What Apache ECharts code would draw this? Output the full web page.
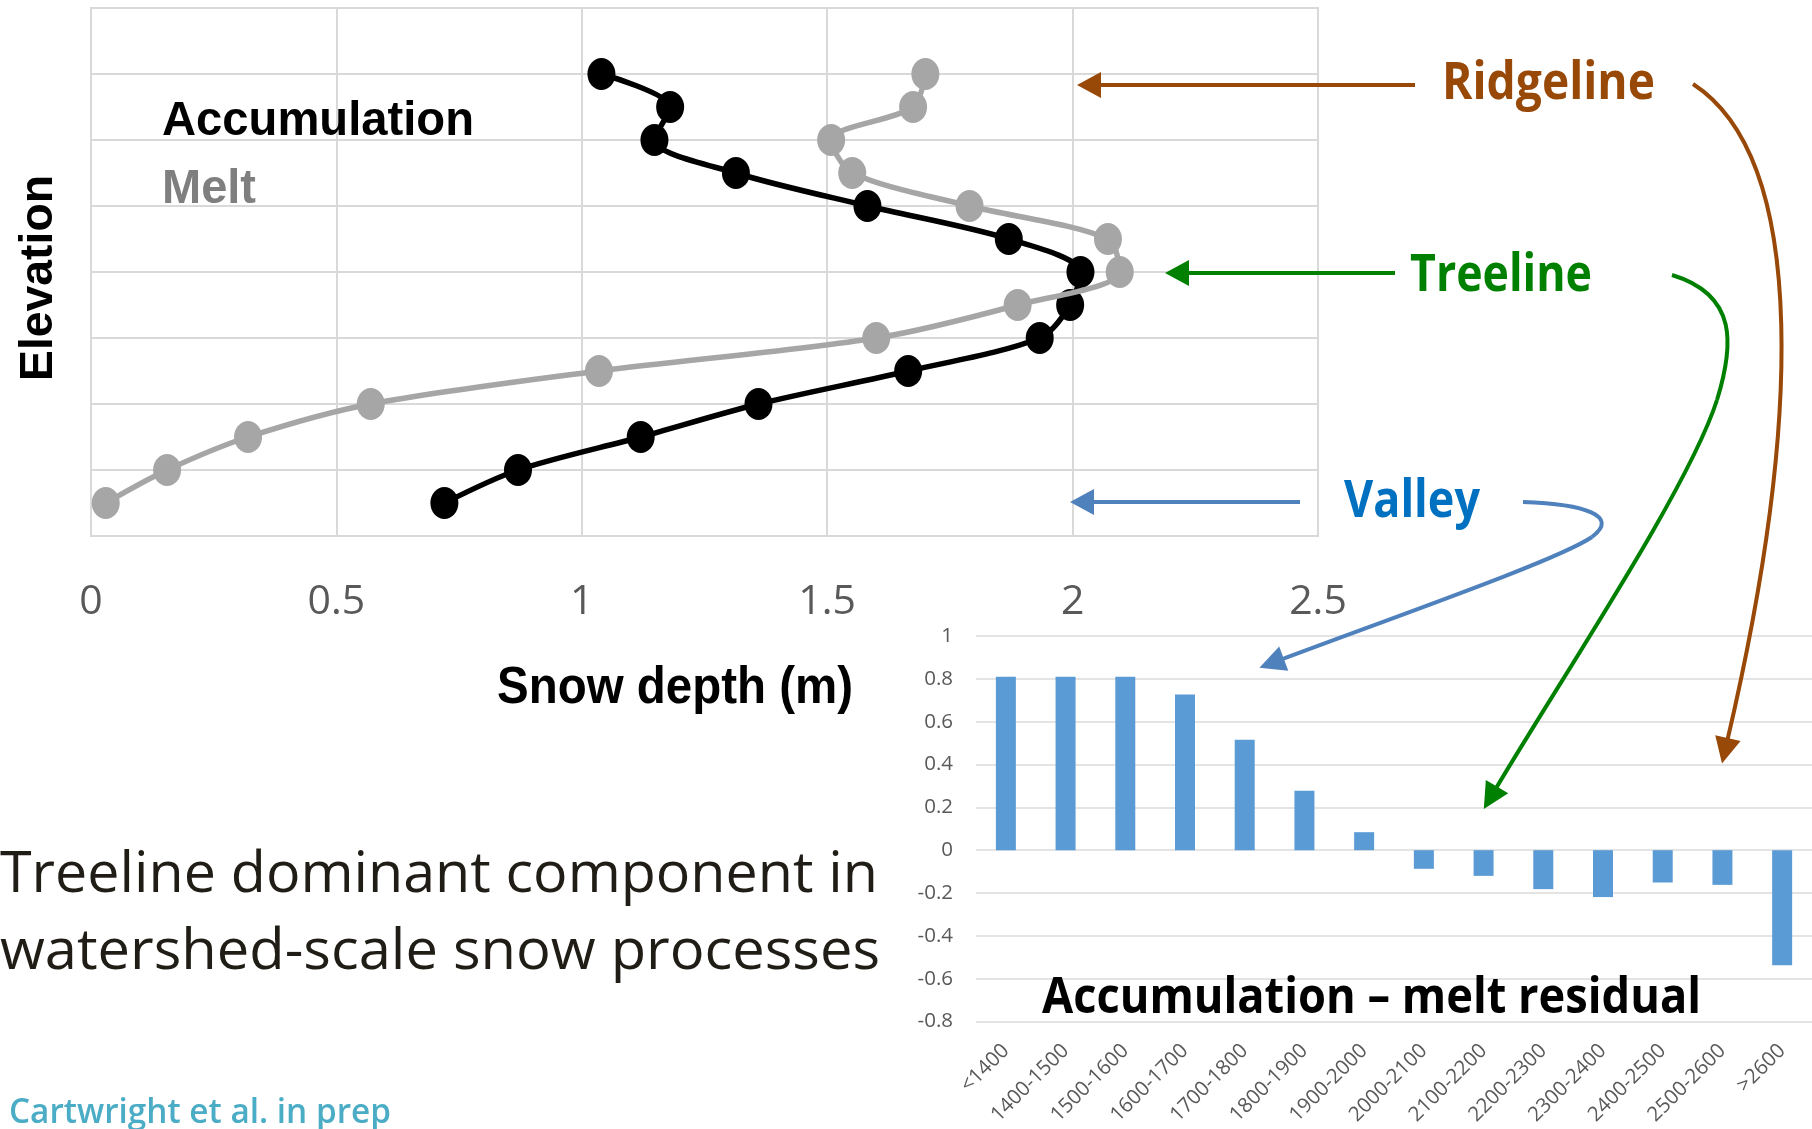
<!DOCTYPE html>
<html>
<head>
<meta charset="utf-8">
<script src="https://cdn.jsdelivr.net/npm/echarts@6/dist/echarts.min.js"></script>
<style>
html,body{margin:0;padding:0;background:#ffffff;}
#c{width:1812px;height:1129px;}
</style>
</head>
<body>
<div id="c"></div>
<script>
// ---------- data ----------
// elevation band index (bottom = lowest band, top = highest band)
const elevationLevels = [1, 2, 3, 4, 5, 6, 7, 8, 9, 10, 11, 12, 13, 14];
// snow depth (m) per elevation band, listed bottom to top
const accumulationDepth = [0.72, 0.87, 1.12, 1.36, 1.665, 1.933, 1.995, 2.016, 1.87, 1.582, 1.314, 1.148, 1.18, 1.04];
const meltDepth = [0.03, 0.155, 0.32, 0.57, 1.035, 1.6, 1.888, 2.096, 2.072, 1.79, 1.551, 1.508, 1.675, 1.7];
// residual bar chart
const elevationBands = ['<1400', '1400-1500', '1500-1600', '1600-1700', '1700-1800', '1800-1900', '1900-2000',
  '2000-2100', '2100-2200', '2200-2300', '2300-2400', '2400-2500', '2500-2600', '>2600'];
const residual = [0.81, 0.81, 0.81, 0.727, 0.516, 0.277, 0.084, -0.087, -0.12, -0.182, -0.219, -0.151, -0.162, -0.537];
// axis ranges / ticks
const depthAxis = { min: 0, max: 2.5, interval: 0.5 };
const levelAxis = { min: 0, max: 16, interval: 2 };
const residualAxis = { min: -0.8, max: 1, interval: 0.2 };

// ---------- helpers ----------
const ARIAL = '"Liberation Sans", Arial, sans-serif';
const OPEN = '"Open Sans", "Noto Sans", sans-serif';
const mctx = document.createElement('canvas').getContext('2d');

// text element fitted to a target width, placed by its alphabetic baseline
function fitText(o) {
  const font = `${o.weight || 'normal'} ${o.size}px ${o.family}`;
  mctx.font = font;
  mctx.textBaseline = 'alphabetic';
  const m = mctx.measureText(o.text);
  const sx = o.width ? o.width / m.width : 1;
  const k = (m.fontBoundingBoxAscent - m.fontBoundingBoxDescent) / 2;
  return {
    type: 'text', silent: true, z: 100,
    x: o.x, y: o.y + (o.dy || 0), rotation: o.rotation || 0,
    scaleX: sx, scaleY: 1,
    style: {
      text: o.text, x: 0, y: -k,
      fontSize: o.size, fontFamily: o.family, fontWeight: o.weight || 'normal',
      fill: o.color, textAlign: o.align || 'left', textVerticalAlign: 'middle'
    }
  };
}
function head(tipX, tipY, dx, dy, len, half, color) {
  const n = Math.hypot(dx, dy); dx /= n; dy /= n;
  const bx = tipX - dx * len, by = tipY - dy * len;
  const px = -dy, py = dx;
  return { type: 'polygon', silent: true, z: 90,
    shape: { points: [[tipX, tipY], [bx + px * half, by + py * half], [bx - px * half, by - py * half]] },
    style: { fill: color } };
}
function straightArrow(x1, y, tipX, color) {
  return [
    { type: 'line', silent: true, z: 90, shape: { x1: x1, y1: y, x2: tipX + 20, y2: y }, style: { stroke: color, lineWidth: 4 } },
    head(tipX, y, -1, 0, 24, 13, color)
  ];
}
// segs: list of cubic segments [x1,y1,c1x,c1y,c2x,c2y,x2,y2]
function curvedArrow(segs, color) {
  const els = segs.map(s => ({ type: 'bezierCurve', silent: true, z: 90,
    shape: { x1: s[0], y1: s[1], cpx1: s[2], cpy1: s[3], cpx2: s[4], cpy2: s[5], x2: s[6], y2: s[7] },
    style: { stroke: color, lineWidth: 4, fill: null } }));
  const last = segs[segs.length - 1];
  const dx = last[6] - last[4], dy = last[7] - last[5], n = Math.hypot(dx, dy);
  const tipX = last[6] + dx / n * 22, tipY = last[7] + dy / n * 22;
  els.push(head(tipX, tipY, dx, dy, 26, 13, color));
  return els;
}

const ELLIPSE = 'path://M0,50 A50,50 0 1,1 100,50 A50,50 0 1,1 0,50 Z';
const gridLine = { lineStyle: { color: '#d9d9d9', width: 2 } };
const OS = 6; // vertical correction for Open Sans placement

const graphics = [].concat(
  [
    fitText({ text: 'Accumulation', x: 162, y: 138, size: 49, family: ARIAL, weight: 'bold', width: 312, color: '#000000' }),
    fitText({ text: 'Melt', x: 162, y: 206, size: 49, family: ARIAL, weight: 'bold', width: 94, color: '#7f7f7f' }),
    fitText({ text: 'Elevation', x: 55, y: 278, size: 46, family: ARIAL, weight: 'bold', width: 206, color: '#000000', align: 'center', rotation: Math.PI / 2 }),
    fitText({ text: 'Snow depth (m)', x: 497, y: 707, size: 52, family: ARIAL, weight: 'bold', width: 356, color: '#000000' }),
    fitText({ text: 'Ridgeline', x: 1442, y: 99, dy: OS, size: 52, family: OPEN, weight: 'bold', width: 213, color: '#984807' }),
    fitText({ text: 'Treeline', x: 1410, y: 291, dy: OS, size: 52, family: OPEN, weight: 'bold', width: 182, color: '#008000' }),
    fitText({ text: 'Valley', x: 1344, y: 517, dy: OS, size: 52, family: OPEN, weight: 'bold', width: 136, color: '#0070c0' }),
    fitText({ text: 'Treeline dominant component in', x: 0, y: 892, dy: OS, size: 57, family: OPEN, weight: 'normal', width: 878, color: '#201d16' }),
    fitText({ text: 'watershed-scale snow processes', x: 0, y: 969, dy: OS, size: 57, family: OPEN, weight: 'normal', width: 880, color: '#201d16' }),
    fitText({ text: 'Cartwright et al. in prep', x: 9, y: 1123, dy: 4, size: 35, family: OPEN, weight: '600', width: 382, color: '#4bacc6' }),
    fitText({ text: 'Accumulation \u2013 melt residual', x: 1042, y: 1012, dy: OS, size: 50, family: OPEN, weight: 'bold', width: 659, color: '#000000' })
  ],
  straightArrow(1415, 85, 1077, '#984807'),
  straightArrow(1395, 273, 1165, '#008000'),
  straightArrow(1300, 502, 1070, '#4f81bd'),
  curvedArrow([[1693, 84, 1810, 160, 1800, 430, 1727, 742]], '#984807'),
  curvedArrow([[1672, 275, 1738, 295, 1734, 345, 1717, 400], [1717, 400, 1688, 490, 1560, 680, 1495, 790]], '#008000'),
  curvedArrow([[1523, 502, 1585, 504, 1620, 516, 1592, 537], [1592, 537, 1558, 560, 1400, 615, 1280, 660]], '#4f81bd')
);

const chart = echarts.init(document.getElementById('c'), null, { renderer: 'canvas' });
chart.setOption({
  animation: false,
  backgroundColor: '#ffffff',
  grid: [
    { left: 91, top: 8, width: 1227, height: 528, show: true, borderColor: '#d9d9d9', borderWidth: 2, backgroundColor: 'transparent' },
    { left: 976, right: -8, top: 636, bottom: 107.5 }
  ],
  xAxis: [
    { type: 'value', gridIndex: 0, min: depthAxis.min, max: depthAxis.max, interval: depthAxis.interval,
      axisLine: { show: false }, axisTick: { show: false }, splitLine: gridLine,
      axisLabel: { fontSize: 41, color: '#595959', fontFamily: OPEN, margin: 46 } },
    { type: 'category', gridIndex: 1, data: elevationBands,
      axisLine: { show: false, onZero: false }, axisTick: { show: false },
      axisLabel: { rotate: 45, interval: 0, fontSize: 20.5, color: '#595959', fontFamily: OPEN, margin: 26 } }
  ],
  yAxis: [
    { type: 'value', gridIndex: 0, min: levelAxis.min, max: levelAxis.max, interval: levelAxis.interval,
      axisLine: { show: false }, axisTick: { show: false }, axisLabel: { show: false }, splitLine: gridLine },
    { type: 'value', gridIndex: 1, min: residualAxis.min, max: residualAxis.max, interval: residualAxis.interval,
      axisLine: { show: false }, axisTick: { show: false },
      splitLine: { lineStyle: { color: '#e4e4e4', width: 2 } },
      axisLabel: { fontSize: 20.5, color: '#595959', fontFamily: OPEN, margin: 23,
        formatter: v => String(parseFloat(v.toFixed(1))) } }
  ],
  series: [
    { name: 'Accumulation', type: 'line', xAxisIndex: 0, yAxisIndex: 0,
      data: accumulationDepth.map((d, i) => [d, elevationLevels[i]]),
      smooth: 0.3, symbol: ELLIPSE, symbolSize: [28, 32],
      lineStyle: { color: '#000000', width: 5.5 }, itemStyle: { color: '#000000' }, z: 3 },
    { name: 'Melt', type: 'line', xAxisIndex: 0, yAxisIndex: 0,
      data: meltDepth.map((d, i) => [d, elevationLevels[i]]),
      smooth: 0.3, symbol: ELLIPSE, symbolSize: [28, 32],
      lineStyle: { color: '#a6a6a6', width: 5.5 }, itemStyle: { color: '#a6a6a6' }, z: 4 },
    { name: 'Residual', type: 'bar', xAxisIndex: 1, yAxisIndex: 1, data: residual,
      barWidth: 20, itemStyle: { color: '#5b9bd5' } }
  ],
  graphic: graphics
});
</script>
</body>
</html>
